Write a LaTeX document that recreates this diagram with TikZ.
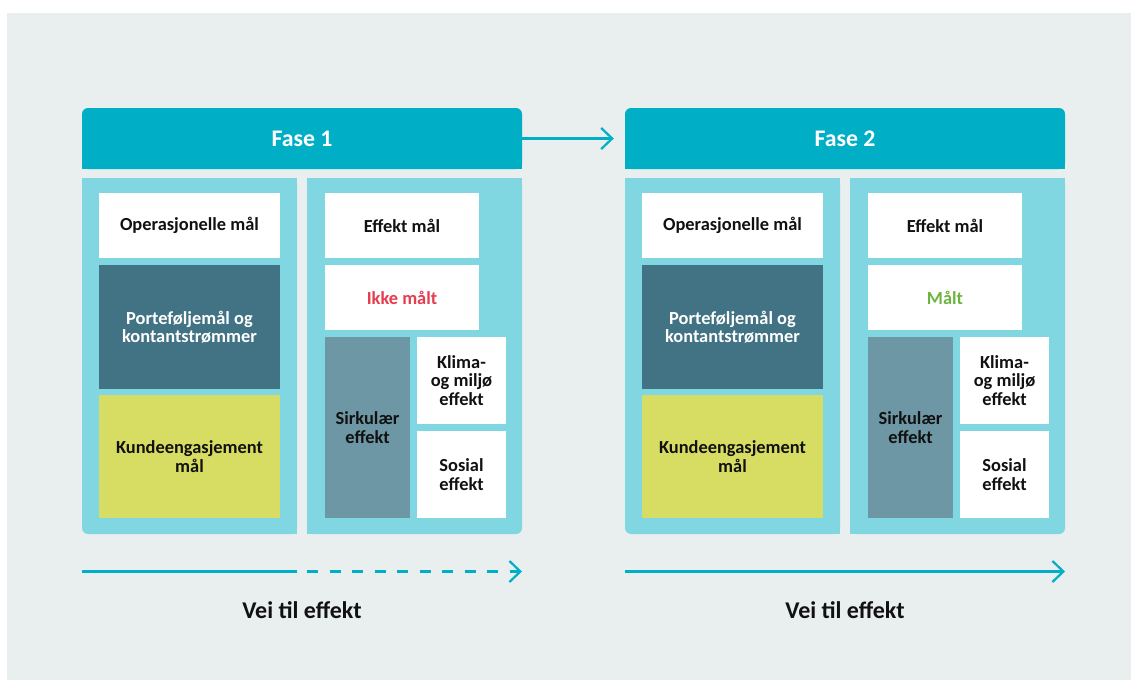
\documentclass[tikz,border=0pt]{standalone}
\usepackage{fontspec}
\setmainfont{Carlito}
\usetikzlibrary{arrows.meta}
\definecolor{bgc}{HTML}{E9EFEF}
\definecolor{headc}{HTML}{00AEC6}
\definecolor{panelc}{HTML}{80D7E1}
\definecolor{darkc}{HTML}{427384}
\definecolor{yelc}{HTML}{D6DD62}
\definecolor{sirkc}{HTML}{6D97A4}
\definecolor{redc}{HTML}{E63C4F}
\definecolor{greenc}{HTML}{6DB33F}
\definecolor{txtc}{HTML}{111111}
\begin{document}
\begin{tikzpicture}[x=1pt,y=-1pt,
  box/.style={inner sep=0pt, align=center, text=txtc,
    font=\bfseries\fontsize{18.4}{18.6}\selectfont},
  headbox/.style={fill=headc, rounded corners=6pt, inner sep=0pt, text=white,
    minimum width=440pt, minimum height=61pt,
    font=\bfseries\fontsize{23.8}{26}\selectfont},
  conn/.style={draw=headc, line width=2.2pt},
  arr/.style={-{Straight Barb[length=11pt,width=21pt]}},
  caption/.style={inner sep=0pt, anchor=base, text=txtc,
    font=\bfseries\fontsize{24}{26}\selectfont}
]
\useasboundingbox (0,0) rectangle (1131,680);
\fill[white] (0,0) rectangle (1131,680);
\fill[bgc] (7,13) rectangle (1131,680);

\foreach \p/\dx/\res/\resc in {1/0/Ikke målt/redc, 2/543/Målt/greenc} {
\begin{scope}[xshift=\dx pt]
  % header
  \fill[headc] (82,140) rectangle (522,169);
  \node[headbox] (h\p) at (302,138.5) {Fase \p};
  % left panel
  \fill[panelc] (82,178) rectangle (297,520);
  \fill[panelc] (100,178) rectangle (297,534);
  \fill[panelc, rounded corners=6pt] (82,178) rectangle (297,534);
  % right panel
  \fill[panelc] (307,178) rectangle (522,520);
  \fill[panelc] (307,178) rectangle (500,534);
  \fill[panelc, rounded corners=6pt] (307,178) rectangle (522,534);
  % left boxes
  \node[box, fill=white, minimum width=181pt, minimum height=65pt] (op\p) at (189.5,225.5) {Operasjonelle mål};
  \node[box, fill=darkc, text=white, minimum width=181pt, minimum height=124pt] (port\p) at (189.5,327) {Porteføljemål og\\kontantstrømmer};
  \node[box, fill=yelc, minimum width=181pt, minimum height=123pt] (kunde\p) at (189.5,456.5) {Kundeengasjement\\mål};
  % right boxes
  \node[box, fill=white, minimum width=154pt, minimum height=65pt] (eff\p) at (402,225.5) {Effekt mål};
  \node[box, fill=white, text=\resc, minimum width=154pt, minimum height=65pt] (res\p) at (402,297.5) {\res};
  \node[box, fill=sirkc, minimum width=85pt, minimum height=181pt] (sirk\p) at (367.5,427.5) {Sirkulær\\effekt};
  \node[box, fill=white, minimum width=89pt, minimum height=87pt] (klima\p) at (461.5,380.5) {Klima-\\og miljø\\effekt};
  \node[box, fill=white, minimum width=89pt, minimum height=87pt] (sos\p) at (461.5,474.5) {Sosial\\effekt};
  % caption
  \node[caption] (cap\p) at (302,618) {Vei til effekt};
\end{scope}
}

% connector between phases
\draw[conn, arr, shorten >=11pt] (h1.east) -- (h2.west);

% bottom arrows
\coordinate (a1) at (82,571.5);
\coordinate (a2) at (297,571.5);
\coordinate (a3) at (307,571.5);
\coordinate (a4) at (522,571.5);
\coordinate (b1) at (625,571.5);
\coordinate (b2) at (1065,571.5);
\draw[conn] (a1) -- (a2);
\draw[conn, arr, dash pattern=on 11pt off 11.5pt] (a3) -- (a4);
\draw[conn, arr] (b1) -- (b2);
\end{tikzpicture}
\end{document}
